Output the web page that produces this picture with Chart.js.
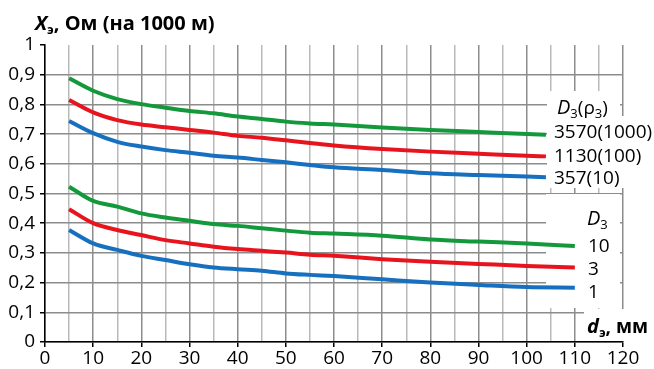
<!DOCTYPE html>
<html>
<head>
<meta charset="utf-8">
<script src="https://cdn.jsdelivr.net/npm/chart.js@4.4.1/dist/chart.umd.min.js"></script>
<style>
html,body{margin:0;padding:0;background:#fff;}
canvas{display:block;}
</style>
</head>
<body>
<canvas id="c" width="654" height="369"></canvas>
<script>
// Diameter of electrode d, mm
const dUpper = [5,10,15,20,25,30,35,40,45,50,55,60,70,80,90,100,104];
const dLower = [5,10,15,20,25,30,35,40,45,50,55,60,70,80,90,100,110];

// Upper group: D3(rho3)
const s3570 = [0.888,0.846,0.818,0.801,0.789,0.778,0.770,0.759,0.751,0.742,0.736,0.732,0.722,0.714,0.707,0.700,0.698];
const s1130 = [0.815,0.773,0.747,0.732,0.723,0.714,0.705,0.694,0.688,0.679,0.670,0.662,0.650,0.641,0.634,0.627,0.625];
const s357  = [0.744,0.703,0.674,0.658,0.646,0.637,0.627,0.621,0.613,0.605,0.596,0.588,0.579,0.568,0.562,0.557,0.555];

// Lower group: D3
const s10 = [0.523,0.475,0.456,0.433,0.419,0.408,0.397,0.391,0.383,0.375,0.368,0.365,0.358,0.345,0.338,0.332,0.323];
const s3  = [0.447,0.400,0.377,0.360,0.343,0.332,0.321,0.313,0.307,0.301,0.294,0.290,0.279,0.270,0.263,0.256,0.251];
const s1  = [0.377,0.332,0.310,0.290,0.276,0.262,0.251,0.245,0.240,0.231,0.226,0.222,0.211,0.200,0.192,0.185,0.183];

const upperLabels = ['3570(1000)','1130(100)','357(10)'];
const lowerLabels = ['10','3','1'];

const GREEN = '#13993b', RED = '#e8141d', BLUE = '#1670bf';
const FONT = '"Open Sans", "Noto Sans", sans-serif';

function pts(xs, ys){ return xs.map((x,i)=>({x:x, y:ys[i]})); }
function ds(xs, ys, color){
  return {data: pts(xs, ys), borderColor: color, borderWidth: 4, pointRadius: 0,
          fill: false, cubicInterpolationMode: 'monotone', borderCapStyle: 'butt'};
}

function runs(ctx, x, y, parts){
  let cx = x;
  for (const p of parts){
    ctx.font = p.f;
    ctx.fillText(p.t, cx, y + (p.dy||0));
    cx += ctx.measureText(p.t).width + (p.kern||0);
  }
}

const textPlugin = {
  id: 'texts',
  beforeDatasetsDraw(chart){
    const ctx = chart.ctx;
    ctx.save();
    ctx.fillStyle = '#fff';
    ctx.fillRect(547, 91, 73, 25);
    ctx.fillRect(547, 116, 80, 72);
    ctx.fillRect(546, 194, 74, 114);
    ctx.fillRect(584, 309, 70, 32);
    ctx.restore();
  },
  afterDraw(chart){
    const ctx = chart.ctx;
    ctx.save();
    ctx.fillStyle = '#000';
    ctx.textBaseline = 'alphabetic';
    ctx.textAlign = 'left';
    // Y axis title
    runs(ctx, 35, 30, [
      {t:'X', f:'italic bold 20px '+FONT},
      {t:'э', f:'bold 13px '+FONT, dy:4},
      {t:', Ом (на 1000 м)', f:'bold 20px '+FONT}
    ]);
    // X axis title
    runs(ctx, 587, 333, [
      {t:'d', f:'italic bold 20px '+FONT},
      {t:'э', f:'bold 13px '+FONT, dy:4},
      {t:', мм', f:'bold 19px '+FONT}
    ]);
    // Upper legend
    runs(ctx, 557, 114, [
      {t:'D', f:'italic 20px '+FONT},
      {t:'3', f:'13px '+FONT, dy:4},
      {t:'(ρ', f:'19px '+FONT},
      {t:'3', f:'13px '+FONT, dy:4},
      {t:')', f:'19px '+FONT}
    ]);
    ctx.font = '19px '+FONT;
    const ub = [138, 162, 184];
    upperLabels.forEach((t,i)=>ctx.fillText(t, 554, ub[i]));
    // Lower legend
    runs(ctx, 587, 225, [
      {t:'D', f:'italic 20px '+FONT},
      {t:'3', f:'13px '+FONT, dy:4}
    ]);
    ctx.font = '19px '+FONT;
    const lb = [252, 275, 298];
    lowerLabels.forEach((t,i)=>ctx.fillText(t, 588, lb[i]));
    ctx.restore();
  }
};

new Chart(document.getElementById('c'), {
  type: 'line',
  data: {
    datasets: [
      ds(dUpper, s3570, GREEN),
      ds(dUpper, s1130, RED),
      ds(dUpper, s357, BLUE),
      ds(dLower, s10, GREEN),
      ds(dLower, s3, RED),
      ds(dLower, s1, BLUE)
    ]
  },
  options: {
    responsive: false,
    animation: false,
    devicePixelRatio: 1,
    layout: {padding: {top: 45, right: 31, left: 0, bottom: 0}},
    plugins: {legend: {display: false}, tooltip: {enabled: false}},
    scales: {
      x: {
        type: 'linear', min: 0, max: 120,
        afterFit(a){ a.height = 27; },
        border: {color: '#000', width: 1.5},
        grid: {
          lineWidth: 1.5,
          color: c => (Math.round(c.tick.value) % 10 === 0) ? '#8c8c8c' : '#b9b9b9',
          tickColor: c => (Math.round(c.tick.value) % 10 === 0) ? '#000' : 'rgba(0,0,0,0)',
          tickLength: 5, tickWidth: 1.5
        },
        ticks: {
          stepSize: 5, autoSkip: false, maxRotation: 0, padding: 0,
          color: '#000', font: {family: FONT, size: 19},
          callback: v => (Math.round(v) % 10 === 0) ? String(Math.round(v)) : ''
        }
      },
      y: {
        type: 'linear', min: 0, max: 1,
        afterFit(a){ a.width = 45; },
        border: {color: '#000', width: 1.5},
        grid: {
          lineWidth: 1.5,
          color: c => (Math.abs(c.tick.value - 1) < 1e-6) ? 'rgba(0,0,0,0)' : '#8c8c8c',
          tickColor: '#000',
          tickLength: 5, tickWidth: 1.5
        },
        ticks: {
          stepSize: 0.1, padding: 5, color: '#000',
          font: {family: FONT, size: 19},
          callback: v => {
            const r = Math.round(v * 10) / 10;
            return (r === 0 || r === 1) ? String(r) : r.toFixed(1).replace('.', ',');
          }
        }
      }
    }
  },
  plugins: [textPlugin]
});
</script>
</body>
</html>
